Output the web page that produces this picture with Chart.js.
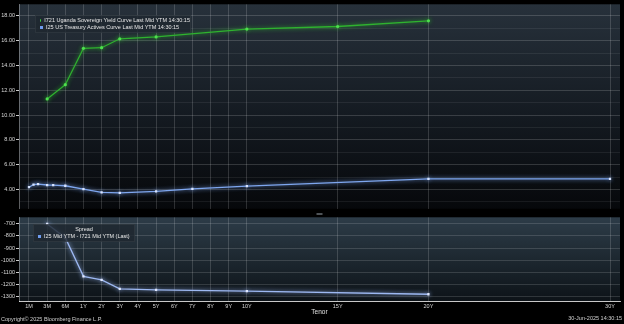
<!DOCTYPE html>
<html>
<head>
<meta charset="utf-8">
<script src="https://cdn.jsdelivr.net/npm/chart.js@4.4.1/dist/chart.umd.min.js"></script>
<style>
	body { margin: 0; background: #000; }
	#wrap { position: relative; width: 624px; height: 324px; font-family: "Liberation Sans", Arial, sans-serif; color: #e8e8e8; background: #000; }
	canvas { position: absolute; left: 0; }
	.legend { position: absolute; background: rgba(30, 39, 48, 0.82); border: 1px solid rgba(255,255,255,0.06); font-size: 5.5px; line-height: 7px; white-space: nowrap; }
	.legend .row { display: flex; align-items: center; }
	.mark { display: inline-block; width: 3px; height: 3px; margin-right: 3px; }
	.foot { position: absolute; font-size: 5.5px; color: #d0d0d0; white-space: nowrap; }
</style>
</head>
<body>
<div id="wrap">
	<canvas id="topChart" width="624" height="213" style="top:0"></canvas>
	<canvas id="spreadChart" width="624" height="111" style="top:213px"></canvas>
	<div class="legend" id="topLegend" style="left:35px; top:15px; width:150px; height:15px; padding:1px 0 0 4px;">
		<div class="row"><span class="mark" style="background:#3fcf3f; border-radius:50%;"></span>I721 Uganda Sovereign Yield Curve Last Mid YTM 14:30:15</div>
		<div class="row"><span class="mark" style="background:#6f9cf0;"></span>I25 US Treasury Actives Curve Last Mid YTM 14:30:15</div>
	</div>
	<div class="legend" id="bottomLegend" style="left:33px; top:224px; width:96px; height:15px; padding:1px 0 0 4px;">
		<div style="text-align:center; padding-right:4px;">Spread</div>
		<div class="row"><span class="mark" style="background:#6f9cf0;"></span>I25 Mid YTM - I721 Mid YTM (Last)</div>
	</div>
	<div class="foot" style="left:1px; top:316px;">Copyright© 2025 Bloomberg Finance L.P.</div>
	<div class="foot" style="right:2px; top:315px;">30-Jun-2025 14:30:15</div>
</div>
<script>

// tenor axis (months)
const tickMonths = [1, 3, 6, 12, 24, 36, 48, 60, 72, 84, 96, 108, 120, 180, 240, 360];
const tickLabels = ["1M","3M","6M","1Y","2Y","3Y","4Y","5Y","6Y","7Y","8Y","9Y","10Y","15Y","20Y","30Y"];

// I721 Uganda sovereign curve
const ugandaTenors = [3, 6, 12, 24, 36, 60, 120, 180, 240];
const ugandaYields = [11.30, 12.45, 15.38, 15.43, 16.15, 16.30, 16.93, 17.14, 17.60];

// I25 US treasury actives
const usTenors = [1, 1.5, 2, 3, 4, 6, 12, 24, 36, 60, 84, 120, 240, 360];
const usYields = [4.18, 4.40, 4.43, 4.36, 4.35, 4.30, 4.02, 3.76, 3.72, 3.84, 4.05, 4.27, 4.85, 4.85];

// spread (bp)
const spreadTenors = [3, 6, 12, 24, 36, 60, 120, 240];
const spreadValues = [-700, -815, -1135, -1165, -1240, -1248, -1258, -1284];

const yTopTicks = [3,4,5,6,7,8,9,10,11,12,13,14,15,16,17,18];
const yBottomTicks = [-1300,-1200,-1100,-1000,-900,-800,-700];

// bloomberg tenor axis: 1M..6M squeezed, then linear in years
function tenorToX(m){
	if(m <= 3) return -2 + (m - 1) / 2;
	if(m <= 6) return -1 + (m - 3) / 3;
	if(m <= 12) return (m - 6) / 6;
	return m / 12;
}

function points(tenors, values){
	let pts = [];
	for(let i = 0; i < tenors.length; i++){
		pts.push({x: tenorToX(tenors[i]), y: values[i]});
	}
	return pts;
}

const tickFont = {family: "Liberation Sans", size: 5.5};

function panelBg(stops){
	return {
		id: "panelBg",
		beforeDraw(chart){
			const ctx = chart.ctx;
			const area = chart.chartArea;
			ctx.save();
			ctx.fillStyle = "#000";
			ctx.fillRect(0, 0, chart.width, chart.height);
			let g = ctx.createLinearGradient(0, area.top, 0, area.bottom);
			for(let i = 0; i < stops.length; i++){
				g.addColorStop(stops[i][0], stops[i][1]);
			}
			ctx.fillStyle = g;
			ctx.fillRect(area.left, area.top, area.right - area.left, area.bottom - area.top);
			ctx.restore();
		}
	};
}

const handle = {
	id: "handle",
	afterDraw(chart){
		const ctx = chart.ctx;
		let mid = (chart.chartArea.left + chart.chartArea.right) / 2;
		ctx.save();
		ctx.fillStyle = "#9aa3ab";
		ctx.fillRect(mid - 3, 0.5, 6, 1);
		ctx.restore();
	}
};

const glow = {
	id: "glow",
	beforeDatasetDraw(chart, args){
		const ctx = chart.ctx;
		ctx.save();
		ctx.shadowColor = args.meta._dataset.borderColor;
		ctx.shadowBlur = 4;
	},
	afterDatasetDraw(chart){
		chart.ctx.restore();
	}
};

function tenorAxis(showLabels){
	return {
		type: "linear",
		min: -2.55,
		max: 30.55,
		afterBuildTicks(scale){
			scale.ticks = tickMonths.map(m => ({value: tenorToX(m)}));
		},
		afterFit(scale){ scale.height = showLabels ? 15 : 0; },
		ticks: {
			display: showLabels,
			autoSkip: false,
			maxRotation: 0,
			color: "#d8d8d8",
			font: tickFont,
			padding: 2,
			callback: (v, i) => tickLabels[i]
		},
		grid: {color: "rgba(255,255,255,0.2)", lineWidth: 0.8, drawTicks: false},
		border: {display: showLabels, color: "#c8c8c8", width: 1},
		title: {display: showLabels, text: "Tenor", color: "#e0e0e0", font: {family: "Liberation Sans", size: 6.5}, padding: 0}
	};
}

function lineDataset(label, tenors, values, color, pointColor, style){
	return {
		label: label,
		data: points(tenors, values),
		borderColor: color,
		backgroundColor: pointColor,
		borderWidth: 1.3,
		pointStyle: style,
		pointRadius: 1.6,
		pointBorderWidth: 0,
		tension: 0
	};
}

let topChart = new Chart(document.getElementById("topChart").getContext("2d"), {
	type: "line",
	data: {
		datasets: [
			lineDataset("I721 Uganda Sovereign Yield Curve Last Mid YTM 14:30:15", ugandaTenors, ugandaYields, "#2fb22f", "#4ee04e", "circle"),
			lineDataset("I25 US Treasury Actives Curve Last Mid YTM 14:30:15", usTenors, usYields, "#7ea6ee", "#d8e4ff", "rect")
		]
	},
	options: {
		responsive: false,
		animation: false,
		layout: {padding: {top: 0, right: 0, bottom: 1, left: 0}},
		plugins: {legend: {display: false}, tooltip: {enabled: false}},
		scales: {
			x: tenorAxis(false),
			y: {
				min: 2.45,
				max: 18.93,
				afterBuildTicks(scale){
					scale.ticks = yTopTicks.map(v => ({value: v}));
				},
				afterFit(scale){ scale.width = 19; },
				ticks: {
					autoSkip: false,
					color: "#d8d8d8",
					font: tickFont,
					padding: 1,
					callback: v => v % 2 === 0 ? v.toFixed(2) : ""
				},
				grid: {
					color: c => c.tick && c.tick.value % 2 === 0 ? "rgba(255,255,255,0.16)" : "rgba(255,255,255,0.07)",
					tickColor: c => c.tick && c.tick.value % 2 === 0 ? "#ccc" : "rgba(0,0,0,0)",
					tickLength: 3
				},
				border: {color: "rgba(255,255,255,0.35)"}
			}
		}
	},
	plugins: [panelBg([[0, "#27313b"], [0.55, "#141a21"], [1, "#06080b"]]), glow]
});

let spreadChart = new Chart(document.getElementById("spreadChart").getContext("2d"), {
	type: "line",
	data: {
		datasets: [
			lineDataset("I25 Mid YTM - I721 Mid YTM (Last)", spreadTenors, spreadValues, "#9db8f2", "#e0e8ff", "rect")
		]
	},
	options: {
		responsive: false,
		animation: false,
		layout: {padding: {top: 2, right: 0, bottom: 8, left: 0}},
		plugins: {legend: {display: false}, tooltip: {enabled: false}},
		scales: {
			x: tenorAxis(true),
			y: {
				min: -1340,
				max: -645,
				afterBuildTicks(scale){
					scale.ticks = yBottomTicks.map(v => ({value: v}));
				},
				afterFit(scale){ scale.width = 19; },
				ticks: {
					autoSkip: false,
					color: "#d8d8d8",
					font: tickFont,
					padding: 1,
					callback: v => String(v)
				},
				grid: {color: "rgba(255,255,255,0.14)", tickColor: "#ccc", tickLength: 3},
				border: {color: "rgba(255,255,255,0.35)"}
			}
		}
	},
	plugins: [panelBg([[0, "#2d3c48"], [1, "#0d1318"]]), glow, handle]
});

</script>
</body>
</html>
